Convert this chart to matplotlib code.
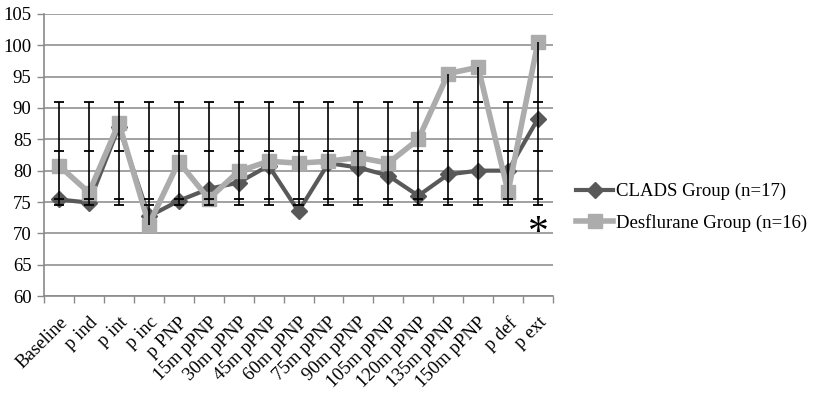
import matplotlib.pyplot as plt
import numpy as np

plt.rcParams['font.family'] = ['Liberation Serif', 'DejaVu Serif']

categories = ['Baseline', 'p ind', 'p int', 'p inc', 'p PNP', '15m pPNP', '30m pPNP',
              '45m pPNP', '60m pPNP', '75m pPNP', '90m pPNP', '105m pPNP', '120m pPNP',
              '135m pPNP', '150m pPNP', 'p def', 'p ext']

clads = [75.4, 74.9, 87.0, 72.7, 75.2, 77.1, 78.1, 80.8, 73.5, 81.2, 80.5,
         79.2, 76.0, 79.4, 80.0, 80.0, 88.3]
desflurane = [80.8, 76.5, 87.6, 71.4, 81.4, 75.5, 79.9, 81.5, 81.2, 81.5, 82.1,
              81.2, 85.0, 95.5, 96.5, 76.6, 100.6]

# error bar ranges (same for every time point)
err_a_low = [75.4] * 17
err_a_high = [91.0] * 17
err_b_low = [74.6] * 17
err_b_high = [83.1] * 17

fig = plt.figure(figsize=(8.16, 3.95), dpi=100)
ax = fig.add_axes([0.054, 0.2506, 0.6237, 0.714])

x = np.arange(len(categories))

ax.plot(x, clads, color='#595959', lw=3, marker='D', ms=8, zorder=3,
        label='CLADS Group (n=17)')
ax.plot(x, desflurane, color='#acacac', lw=4, marker='s', ms=10.5, zorder=4,
        label='Desflurane Group (n=16)')

# error bars drawn on top
lo = np.minimum(np.minimum(err_b_low, desflurane), err_a_low)
hi = np.maximum(np.maximum(err_a_high, desflurane), err_b_high)
ax.vlines(x, lo, hi, color='black', lw=1.2, zorder=5)
for level in (err_a_low, err_a_high, err_b_low, err_b_high):
    ax.hlines(level, x - 0.17, x + 0.17, color='black', lw=1.3, zorder=5)

ax.text(16, 69.9, '*', fontsize=30, ha='center', va='center', color='black', zorder=6)

ax.set_xlim(-0.5, len(categories) - 0.5)
ax.set_ylim(60, 105)
ax.set_yticks(np.arange(60, 106, 5))
ax.yaxis.grid(True, color='#9a9a9a', lw=1.3)
ax.set_axisbelow(True)

ax.set_xticks(x)
ax.set_xticklabels(categories, rotation=45, ha='right', rotation_mode='anchor', fontsize=13.5)
ax.tick_params(axis='x', length=0, pad=13)
ax.set_xticks(np.arange(-0.5, len(categories), 1), minor=True)
ax.tick_params(axis='x', which='minor', length=5, color='#8a8a8a', width=1)
ax.tick_params(axis='y', length=5, color='#8a8a8a', width=1, labelsize=13.5, pad=4)

for s in ('top', 'right'):
    ax.spines[s].set_visible(False)
for s in ('left', 'bottom'):
    ax.spines[s].set_color('#8a8a8a')
    ax.spines[s].set_linewidth(1.2)

fig.legend(loc='center left', bbox_to_anchor=(0.685, 0.475), frameon=False,
           fontsize=13.5, handlelength=2.0, handletextpad=0.15, labelspacing=0.7)

fig.savefig('out.png', dpi=100)
